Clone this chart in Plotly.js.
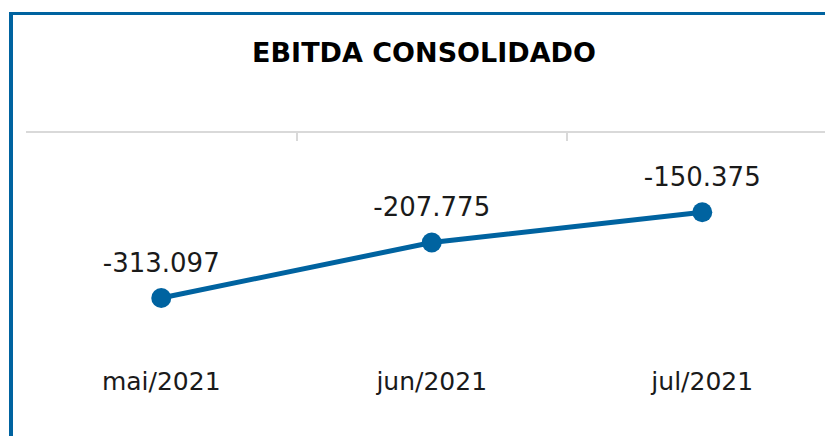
<!DOCTYPE html>
<html><head><meta charset="utf-8">
<script src="https://cdn.plot.ly/plotly-3.0.1.min.js"></script>
<style>
html,body{margin:0;padding:0;background:#fff;}
#wrap{position:relative;width:825px;height:436px;overflow:hidden;}
#chart{position:absolute;left:0;top:0;width:825px;height:436px;}
#frame{position:absolute;left:9px;top:12px;width:830px;height:440px;border-left:4px solid #0063a0;border-top:3px solid #0063a0;pointer-events:none;}
</style></head>
<body><div id="wrap"><div id="chart"></div><div id="frame"></div></div>
<script>
const categories = ['mai/2021','jun/2021','jul/2021'];
const ebitda = [-313097, -207775, -150375];
const labels = ['-313.097','-207.775','-150.375'];

const font = "DejaVu Sans, sans-serif";
const blue = '#0063a0';
const idx = categories.map((c,i)=>i);

const data = [{
  x: idx, y: ebitda, type:'scatter', mode:'lines+markers',
  line:{color:blue,width:5}, marker:{color:blue,size:20},
  hoverinfo:'none'
},{
  x: idx, y: ebitda, type:'scatter', mode:'markers+text',
  marker:{color:'rgba(0,0,0,0)',size:30},
  text: labels, textposition:'top center',
  textfont:{family:font,size:26,color:'#1a1a1a'},
  hoverinfo:'none', cliponaxis:false
},{
  x: idx, y: ebitda, xaxis:'x2', type:'scatter', mode:'none', hoverinfo:'none', showlegend:false
}];

const xr = [-0.5, (825-26)/270.5 - 0.5];
const layout = {
  width:825, height:436,
  margin:{l:26, r:0, t:133, b:76},
  paper_bgcolor:'#fff', plot_bgcolor:'rgba(0,0,0,0)',
  showlegend:false,
  title:{text:'<b>EBITDA CONSOLIDADO</b>', x:0.514, xanchor:'center', y:0.88, yanchor:'middle',
         font:{family:font,size:27,color:'#000'}},
  xaxis:{range:xr, tickvals:idx, ticktext:categories, showgrid:false, zeroline:false,
         showline:false, ticks:'', ticklabelstandoff:4, tickfont:{family:font,size:25,color:'#1a1a1a'}, fixedrange:true},
  xaxis2:{overlaying:'x', side:'top', range:xr, tickvals:[-0.5,0.5,1.5,2.5], ticks:'inside',
          ticklen:8, tickwidth:2, tickcolor:'#d9d9d9', showline:true, linecolor:'#d9d9d9', linewidth:2,
          showticklabels:false, showgrid:false, zeroline:false},
  yaxis:{range:[-430740,0], visible:false, showgrid:false, zeroline:false, fixedrange:true}
};
Plotly.newPlot('chart', data, layout, {displayModeBar:false, staticPlot:true});
</script></body></html>
